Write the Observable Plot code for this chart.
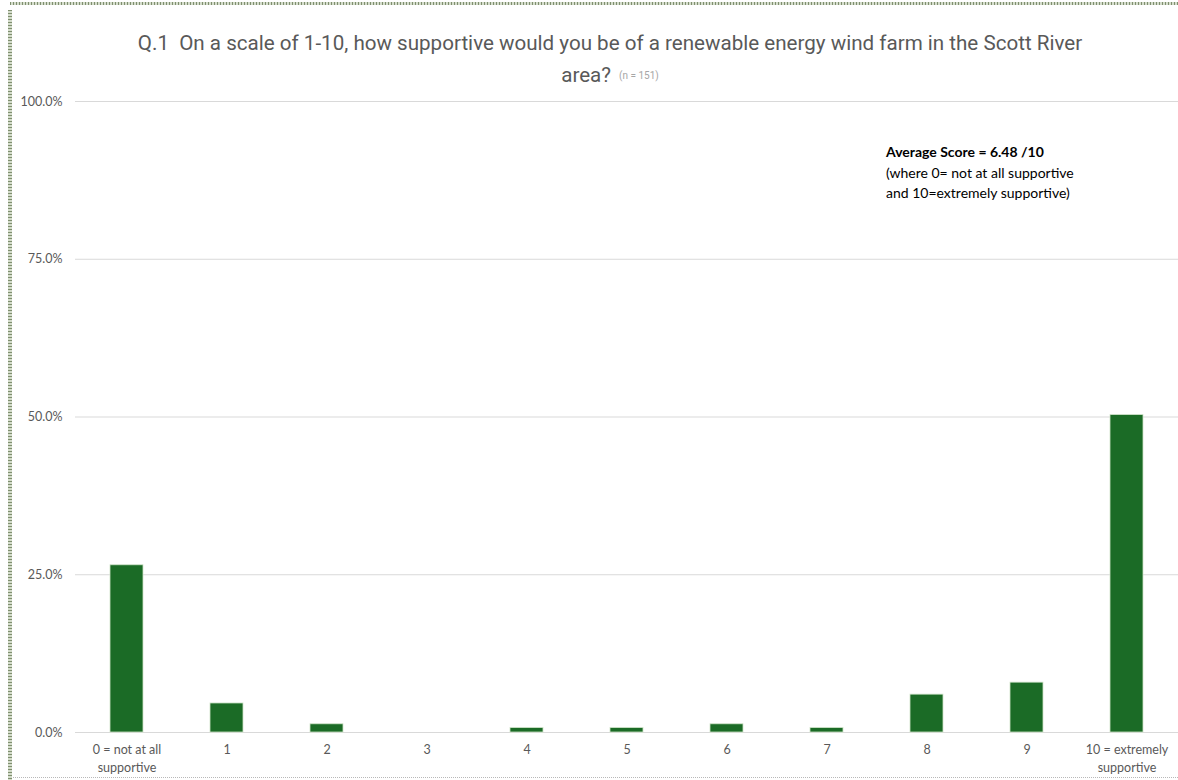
<!DOCTYPE html>
<html>
<head>
<meta charset="utf-8">
<script src="https://cdn.jsdelivr.net/npm/d3@7"></script>
<script src="https://cdn.jsdelivr.net/npm/@observablehq/plot@0.6"></script>
<style>
  html, body { margin: 0; padding: 0; background: #fff; }
  body { width: 1178px; height: 780px; position: relative; overflow: hidden; font-family: Lato, "Open Sans", sans-serif; }
  #frameTop { position: absolute; left: 10px; top: 2px; width: 1168px; height: 3px;
    background: repeating-linear-gradient(90deg, #7f8f6f 0 1px, #d4dccb 1px 3px); }
  #frameLeft { position: absolute; left: 8px; top: 10px; width: 4px; height: 770px;
    background: repeating-linear-gradient(180deg, #7f8f6f 0 1px, #d4dccb 1px 3px); }
  #frameBottom { position: absolute; left: 13px; top: 777px; width: 1165px; height: 0;
    border-top: 1px dotted #b8b8b8; }
  #title { position: absolute; left: 90px; width: 1040px; top: 27px; text-align: center;
    font-size: 20.6px; color: #595959; line-height: 32px; font-family: Roboto, sans-serif; }
  #title .n { font-size: 10px; color: #a6a6a6; margin-left: 8px; vertical-align: 3px; }
  #note { position: absolute; left: 886px; top: 142px; font-size: 14px; line-height: 20.5px; color: #000; font-family: Lato, sans-serif; }
  #note b { font-weight: 700; }
  #chart { position: absolute; left: 0; top: 85px; }
</style>
</head>
<body>
<div id="frameTop"></div>
<div id="frameLeft"></div>
<div id="frameBottom"></div>
<div id="title">Q.1&nbsp; On a scale of 1-10, how supportive would you be of a renewable energy wind farm in the Scott River<br>area?<span class="n">(n = 151)</span></div>
<div id="note"><b>Average Score = 6.48 /10</b><br>(where 0= not at all supportive<br>and 10=extremely supportive)</div>
<div id="chart"></div>
<script>
const categories = ["0", "1", "2", "3", "4", "5", "6", "7", "8", "9", "10"];
const categoryLabels = ["0 = not at all\nsupportive", "1", "2", "3", "4", "5", "6", "7", "8", "9", "10 = extremely\nsupportive"];
const percentages = [26.5, 4.6, 1.3, 0.0, 0.7, 0.7, 1.3, 0.7, 6.0, 7.9, 50.3];
const yTicks = [0, 25, 50, 75, 100];

const data = categories.map((c, i) => ({category: c, value: percentages[i]}));
const labelOf = new Map(categories.map((c, i) => [c, categoryLabels[i]]));

const chart = Plot.plot({
  width: 1178,
  height: 695,
  marginTop: 16,
  marginBottom: 48,
  marginLeft: 75,
  marginRight: 0,
  style: {fontFamily: "Lato, 'Open Sans', sans-serif", fontSize: "12.5px", color: "#595959", background: "transparent", overflow: "visible"},
  x: {domain: categories, paddingInner: 0.67, paddingOuter: 0.335, label: null},
  y: {domain: [0, 100], label: null},
  marks: [
    Plot.gridY(yTicks, {stroke: "#d9d9d9", strokeOpacity: 1, strokeWidth: 1.2}),
    Plot.barY(data, {x: "category", y: "value", fill: "#1b6b26", stroke: "#cfe3c9", strokeWidth: 0.8}),
    Plot.axisX({tickSize: 0, tickPadding: 9, tickFormat: d => labelOf.get(d), lineHeight: 1.45, fontSize: 12.5, fill: "#595959"}),
    Plot.axisY({ticks: yTicks, tickSize: 0, tickPadding: 13, tickFormat: d => d.toFixed(1) + "%", fontSize: 12.5, fill: "#595959"})
  ]
});
document.getElementById("chart").appendChild(chart);
</script>
</body>
</html>
